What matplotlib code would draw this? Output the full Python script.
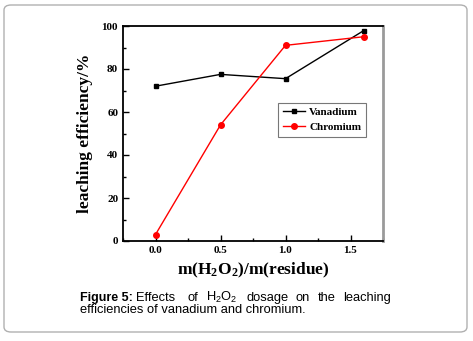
import matplotlib
matplotlib.use('Agg')
import matplotlib.pyplot as plt
from matplotlib.patches import FancyBboxPatch
from matplotlib.ticker import MultipleLocator

# data
dosage_v = [0.0, 0.5, 1.0, 1.6]
vanadium = [72.0, 77.5, 75.5, 97.8]
dosage_cr = [0.0, 0.5, 1.0, 1.6]
chromium = [3.0, 54.0, 91.0, 95.0]

plt.rcParams['mathtext.fontset'] = 'custom'
plt.rcParams['mathtext.rm'] = 'Liberation Serif'
plt.rcParams['mathtext.bf'] = 'Liberation Serif:bold'
plt.rcParams['mathtext.sf'] = 'Liberation Sans'

W, H = 473, 341
fig = plt.figure(figsize=(W / 100, H / 100), dpi=100, facecolor='white')

# rounded frame around the figure + caption
frame = FancyBboxPatch((4 / W, 9 / H), 463 / W, 327 / H,
                       boxstyle="round,pad=0,rounding_size=0.015",
                       transform=fig.transFigure, facecolor='none',
                       edgecolor='#b0b0b0', linewidth=1.0, zorder=-1)
fig.patches.append(frame)

ax = fig.add_axes([123 / W, 1 - 241 / H, 260 / W, 215 / H])

ax.plot(dosage_v, vanadium, color='black', marker='s', markersize=3.5,
        linewidth=1.0, label='Vanadium')
ax.plot(dosage_cr, chromium, color='#ff0000', marker='o', markersize=4,
        linewidth=1.0, label='Chromium')

ax.set_xlim(-0.25, 1.75)
ax.set_ylim(0, 100)
ax.xaxis.set_major_locator(MultipleLocator(0.5))
ax.xaxis.set_minor_locator(MultipleLocator(0.25))
ax.yaxis.set_major_locator(MultipleLocator(20))
ax.yaxis.set_minor_locator(MultipleLocator(10))
ax.tick_params(which='both', direction='in', top=False, right=False)
ax.tick_params(which='major', length=4, width=1)
ax.tick_params(which='minor', length=2, width=1)

for lab in ax.get_xticklabels() + ax.get_yticklabels():
    lab.set_family('Liberation Serif')
    lab.set_fontweight('bold')
    lab.set_fontsize(8)

for side in ['left', 'bottom', 'top']:
    ax.spines[side].set_linewidth(1.3)
ax.spines['right'].set_linewidth(2.0)
ax.spines['right'].set_color('#9a9a9a')

ax.set_ylabel('leaching efficiency/%', family='Liberation Serif',
              fontweight='bold', fontsize=12.5, labelpad=6)
ax.set_xlabel(r'$\mathbf{m(H_2O_2)/m(residue)}$', fontsize=12.5, labelpad=4)

leg = ax.legend(loc='upper right', bbox_to_anchor=(0.955, 0.67),
                prop={'family': 'Liberation Serif', 'weight': 'bold', 'size': 8},
                fancybox=False, framealpha=1, edgecolor='#777777',
                handlelength=2.0, borderpad=0.4, labelspacing=0.5,
                handletextpad=0.4)
leg.get_frame().set_linewidth(0.8)

# caption, first line justified word by word
cap_kw = dict(family='Liberation Sans', color='black', va='baseline')
y1 = 1 - 301 / H
fig.text(80 / W, y1, 'Figure 5:', fontweight='bold', fontsize=9, **cap_kw)
words = [(136, 'Effects'), (187, 'of'), (206, r'H$_\mathsf{2}$O$_\mathsf{2}$'),
         (246, 'dosage'), (296, 'on'), (318, 'the'), (343, 'leaching')]
for x, w in words:
    fig.text(x / W, y1, w, fontsize=9.3, **cap_kw)
fig.text(80 / W, 1 - 313 / H, 'efficiencies of vanadium and chromium.',
         fontsize=9.3, **cap_kw)

fig.savefig('out.png', dpi=100, facecolor='white')
